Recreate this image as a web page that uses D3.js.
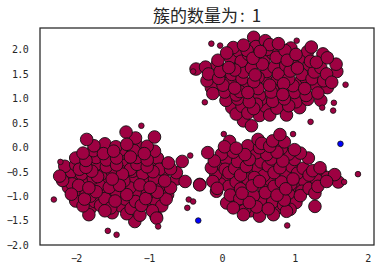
<!DOCTYPE html>
<html>
<head>
<meta charset="utf-8">
<script src="https://cdn.jsdelivr.net/npm/d3@7"></script>
<style>
  body { margin: 0; background: #fff; }
  svg { display: block; }
  .tick-label { font-family: "DejaVu Sans Mono", "Liberation Mono", monospace; font-size: 10px; fill: #262626; letter-spacing: -0.7px; }
  .title { font-family: "Noto Sans CJK SC", sans-serif; font-size: 17px; fill: #262626; }
</style>
</head>
<body>
<svg id="chart" width="380" height="270"></svg>
<script>
// core samples (large markers)
let coreTop = [
    [0.44,2.25],[0.60,2.18],
    [0.16,2.04],[0.30,2.09],[0.47,2.06],[0.66,2.10],[0.78,2.12],[0.95,2.03],[1.23,2.05],
    [0.07,1.93],[0.23,1.97],[0.37,1.90],[0.53,1.96],[0.70,1.92],[0.87,1.98],[1.02,1.90],[1.18,1.96],[1.39,1.91],
    [-0.05,1.78],[0.12,1.83],[0.27,1.76],[0.43,1.82],[0.58,1.77],[0.75,1.84],[0.90,1.78],[1.06,1.82],[1.22,1.76],[1.45,1.83],
    [-0.22,1.64],[-0.06,1.69],[0.10,1.63],[0.26,1.68],[0.41,1.62],[0.56,1.70],[0.72,1.64],[0.88,1.68],[1.04,1.62],[1.20,1.69],[1.36,1.63],[1.57,1.70],
    [-0.35,1.60],[-0.18,1.50],[-0.02,1.55],[0.14,1.49],[0.30,1.54],[0.46,1.48],[0.62,1.55],[0.78,1.50],[0.94,1.56],[1.10,1.49],[1.27,1.54],[1.44,1.50],[1.58,1.55],
    [-0.20,1.36],[-0.04,1.41],[0.12,1.35],[0.28,1.40],[0.44,1.34],[0.60,1.41],[0.76,1.36],[0.92,1.40],[1.08,1.34],[1.24,1.40],[1.40,1.36],[1.51,1.33],
    [-0.14,1.22],[0.02,1.27],[0.18,1.21],[0.34,1.26],[0.50,1.20],[0.66,1.27],[0.82,1.22],[0.98,1.26],[1.14,1.20],[1.30,1.25],[1.45,1.22],
    [-0.12,1.10],[0.04,1.13],[0.20,1.07],[0.36,1.12],[0.52,1.06],[0.68,1.13],[0.84,1.08],[1.00,1.12],[1.16,1.06],[1.32,1.11],
    [0.06,0.96],[0.22,0.99],[0.38,0.93],[0.54,0.98],[0.70,0.94],[0.86,0.99],[1.02,0.93],[1.18,0.98],[1.36,0.96],
    [0.14,0.81],[0.28,0.84],[0.44,0.79],[0.60,0.84],[0.76,0.80],[0.92,0.85],[1.07,0.81],
    [0.20,0.68],[0.36,0.70],[0.52,0.65],[0.66,0.66],[0.89,0.66],
    [0.30,0.54],[0.41,0.44],
    [0.35,1.98],[0.80,1.72],[0.50,1.43],[0.18,1.58],[1.15,1.42],[0.70,1.18],[0.25,1.14],[0.95,1.05],
    [0.48,0.88],[1.30,1.74],[0.02,1.45],[0.62,2.00],[0.85,1.30],[0.40,1.66],[1.00,1.66]
];
let coreLeft = [
    [-1.31,0.31],
    [-1.85,0.16],[-1.18,0.19],[-0.92,0.21],
    [-1.75,0.03],[-1.60,0.07],[-1.45,0.01],[-1.30,0.06],[-1.17,0.06],[-1.02,0.02],
    [-1.90,-0.12],[-1.76,-0.07],[-1.62,-0.13],[-1.48,-0.08],[-1.34,-0.12],[-1.20,-0.07],[-1.06,-0.13],[-0.92,-0.08],
    [-2.00,-0.22],[-1.86,-0.27],[-1.72,-0.21],[-1.58,-0.26],[-1.44,-0.22],[-1.30,-0.27],[-1.16,-0.21],[-1.02,-0.26],[-0.88,-0.22],[-0.73,-0.32],[-0.54,-0.29],
    [-2.15,-0.39],[-2.00,-0.36],[-1.86,-0.41],[-1.72,-0.35],[-1.58,-0.40],[-1.44,-0.36],[-1.30,-0.41],[-1.16,-0.35],[-1.02,-0.40],[-0.88,-0.36],[-0.70,-0.44],
    [-2.22,-0.59],[-2.06,-0.50],[-1.92,-0.55],[-1.78,-0.49],[-1.64,-0.54],[-1.50,-0.50],[-1.36,-0.55],[-1.22,-0.49],[-1.08,-0.54],[-0.94,-0.50],[-0.80,-0.55],[-0.62,-0.52],
    [-2.18,-0.68],[-2.04,-0.64],[-1.90,-0.69],[-1.76,-0.63],[-1.62,-0.68],[-1.48,-0.64],[-1.34,-0.69],[-1.20,-0.63],[-1.06,-0.68],[-0.92,-0.64],[-0.78,-0.69],[-0.62,-0.65],[-0.50,-0.70],[-0.30,-0.77],
    [-2.10,-0.82],[-1.96,-0.78],[-1.82,-0.83],[-1.68,-0.77],[-1.54,-0.82],[-1.40,-0.78],[-1.26,-0.83],[-1.12,-0.77],[-0.98,-0.82],[-0.84,-0.78],[-0.70,-0.83],
    [-2.06,-0.96],[-2.00,-0.92],[-1.86,-0.97],[-1.72,-0.91],[-1.58,-0.96],[-1.44,-0.92],[-1.30,-0.97],[-1.16,-0.91],[-1.02,-0.96],[-0.88,-0.92],[-0.74,-0.97],
    [-2.00,-1.10],[-1.88,-1.06],[-1.74,-1.11],[-1.60,-1.05],[-1.46,-1.10],[-1.32,-1.06],[-1.18,-1.11],[-1.04,-1.05],[-0.90,-1.10],[-0.76,-1.06],
    [-1.90,-1.20],[-1.80,-1.25],[-1.66,-1.19],[-1.52,-1.24],[-1.38,-1.20],[-1.24,-1.25],[-1.10,-1.19],[-0.96,-1.24],[-0.82,-1.20],
    [-1.82,-1.38],[-1.50,-1.34],[-1.30,-1.36],[-1.12,-1.39],[-0.90,-1.41],
    [-1.19,-1.52],[-0.89,-1.45],
    [-1.55,-0.18],[-1.25,-0.45],[-1.70,-0.60],[-1.00,-0.72],[-1.40,-0.88],[-1.80,-1.00],[-1.15,-1.00],[-0.85,-0.45],
    [-1.95,-0.45],[-1.60,-1.30],[-1.38,-0.05],[-0.95,-1.30],[-1.50,-0.65],[-2.05,-0.75],[-1.25,-0.20]
];
let coreRight = [
    [0.80,0.26],
    [0.11,0.12],[0.50,0.16],[0.70,0.13],[0.86,0.11],
    [0.04,0.01],[0.20,-0.02],[0.36,0.03],[0.52,-0.01],[0.66,0.02],[0.82,-0.02],[1.00,-0.05],
    [-0.19,-0.11],[0.00,-0.14],[0.16,-0.10],[0.32,-0.15],[0.48,-0.11],[0.62,-0.15],[0.76,-0.10],[0.92,-0.14],[1.08,-0.12],
    [-0.10,-0.28],[0.06,-0.24],[0.22,-0.29],[0.38,-0.25],[0.54,-0.30],[0.68,-0.24],[0.84,-0.28],[1.00,-0.25],[1.19,-0.22],
    [-0.14,-0.42],[0.02,-0.38],[0.18,-0.43],[0.34,-0.39],[0.50,-0.44],[0.64,-0.38],[0.80,-0.42],[0.96,-0.39],[1.12,-0.43],[1.35,-0.42],
    [-0.08,-0.56],[0.10,-0.52],[0.26,-0.57],[0.42,-0.53],[0.58,-0.58],[0.72,-0.52],[0.88,-0.56],[1.04,-0.53],[1.20,-0.57],[1.36,-0.52],[1.55,-0.56],
    [-0.12,-0.70],[0.04,-0.66],[0.20,-0.71],[0.36,-0.65],[0.52,-0.70],[0.66,-0.66],[0.82,-0.71],[0.98,-0.65],[1.14,-0.70],[1.30,-0.66],[1.44,-0.70],[1.60,-0.71],
    [-0.30,-0.76],[-0.06,-0.84],[0.10,-0.80],[0.26,-0.85],[0.42,-0.79],[0.58,-0.84],[0.72,-0.80],[0.88,-0.85],[1.04,-0.79],[1.20,-0.84],[1.32,-0.80],
    [-0.07,-0.90],[0.12,-0.98],[0.28,-0.94],[0.44,-0.99],[0.60,-0.93],[0.76,-0.98],[0.92,-0.94],[1.08,-0.99],[1.28,-0.94],
    [0.07,-1.14],[0.22,-1.08],[0.38,-1.13],[0.54,-1.07],[0.70,-1.12],[0.86,-1.08],[1.02,-1.13],[1.28,-1.21],
    [0.16,-1.24],[0.32,-1.27],[0.48,-1.22],[0.64,-1.26],[0.80,-1.23],[0.94,-1.27],
    [0.30,-1.38],[0.52,-1.41],[0.71,-1.38],[0.89,-1.31],
    [0.30,-0.20],[0.75,-0.35],[0.45,-0.62],[0.15,-0.90],[0.95,-0.75],[1.25,-0.48],[0.60,-1.00],[0.05,-0.45],
    [0.85,-1.18],[0.40,-1.30],[1.10,-0.90],[0.55,0.08],[-0.02,-0.75],[1.45,-0.62],[0.25,-1.05]
];
// border samples (small markers)
let borderPts = [
    [-0.14,2.12],[-0.02,2.08],[1.03,2.18],[1.70,1.28],[1.54,0.91],[1.53,0.75],[1.22,0.52],[-0.23,0.92],[-0.39,1.55],[1.38,0.81],
    [-1.10,0.44],[-2.21,-0.30],[-2.30,-1.07],[-1.56,-1.71],[-1.44,-1.79],[-0.87,-1.62],[-0.43,-0.17],[-0.45,-1.07],[-0.39,-1.11],[-0.47,-1.24],
    [0.98,0.27],[0.03,0.27],[1.68,-0.71],[1.87,-0.55],[0.90,-1.60]
];
// noise
let noisePts = [[1.63,0.07],[-0.32,-1.50]];

let nClusters = 1;
let xTicks = [-2,-1,0,1,2];
let yTicks = [-2.0,-1.5,-1.0,-0.5,0.0,0.5,1.0,1.5,2.0];

const W = 380, H = 270;
const m = {l:40, r:6, t:28, b:25};
const svg = d3.select('#chart');

const x = d3.scaleLinear().domain([-2.49, 2.09]).range([m.l, W - m.r]);
const y = d3.scaleLinear().domain([-2.0, 2.44]).range([H - m.b, m.t]);

const clusterCol = '#9e0142';
const fmt = d => (d < 0 ? '\u2212' : '') + Math.abs(d).toFixed(1);
const fmtX = d => (d < 0 ? '\u2212' : '') + Math.abs(d);

const plot = svg.append('g');
plot.append('defs').append('clipPath').attr('id','clip')
    .append('rect').attr('x', m.l).attr('y', m.t)
    .attr('width', W - m.l - m.r).attr('height', H - m.t - m.b);

const marks = plot.append('g').attr('clip-path','url(#clip)');

// mix the draw order so overlaps look like matplotlib's scattered order
let core = coreTop.concat(coreLeft, coreRight);
let n = core.length;
let order = d3.range(n).map(i => core[(i * 61) % n]);

marks.selectAll('circle.core')
    .data(order).enter().append('circle')
    .attr('class','core')
    .attr('cx', d => x(d[0])).attr('cy', d => y(d[1]))
    .attr('r', 6.3)
    .attr('fill', clusterCol).attr('stroke', '#111').attr('stroke-width', 0.9);

marks.selectAll('circle.border')
    .data(borderPts).enter().append('circle')
    .attr('class','border')
    .attr('cx', d => x(d[0])).attr('cy', d => y(d[1]))
    .attr('r', 2.8)
    .attr('fill', clusterCol).attr('stroke', '#111').attr('stroke-width', 0.8);

marks.selectAll('circle.noise')
    .data(noisePts).enter().append('circle')
    .attr('class','noise')
    .attr('cx', d => x(d[0])).attr('cy', d => y(d[1]))
    .attr('r', 2.8)
    .attr('fill', '#0000ff').attr('stroke', '#111').attr('stroke-width', 0.8);

// frame
plot.append('rect')
    .attr('x', m.l).attr('y', m.t)
    .attr('width', W - m.l - m.r).attr('height', H - m.t - m.b)
    .attr('fill','none').attr('stroke','#262626').attr('stroke-width',1.25);

// axes with no tick lines (seaborn white style)
const yAxis = d3.axisLeft(y).tickValues(yTicks).tickFormat(fmt).tickSize(0).tickPadding(12);
const gy = svg.append('g').attr('transform', `translate(${m.l},0)`).call(yAxis);
gy.select('.domain').remove();
gy.selectAll('text').attr('class','tick-label').attr('fill', null).attr('dy','0.34em');

const xAxis = d3.axisBottom(x).tickValues(xTicks).tickFormat(fmtX).tickSize(0).tickPadding(10);
const gx = svg.append('g').attr('transform', `translate(0,${H - m.b})`).call(xAxis);
gx.select('.domain').remove();
gx.selectAll('text').attr('class','tick-label').attr('fill', null);

const title = svg.append('text')
    .attr('class','title')
    .attr('x', (m.l + W - m.r) / 2).attr('y', 22)
    .attr('text-anchor','middle');
title.append('tspan').text('簇的数量为');
title.append('tspan').attr('dx', 2).text(':');
title.append('tspan').attr('dx', 7).text(nClusters);
</script>
</body>
</html>
